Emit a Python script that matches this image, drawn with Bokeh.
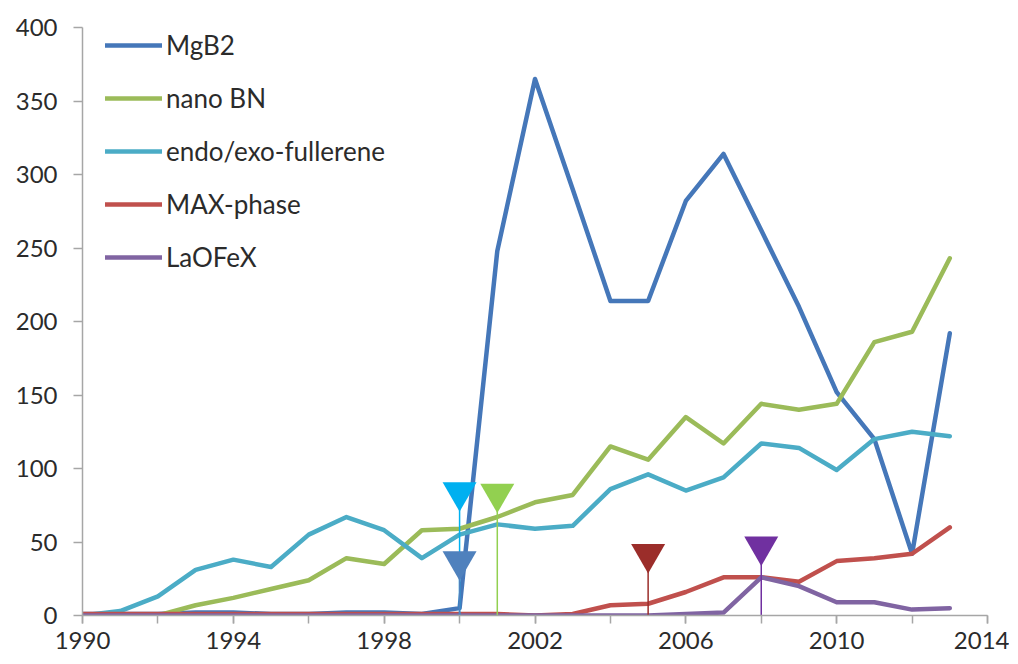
from bokeh.plotting import figure
from bokeh.models import Range1d, FixedTicker, Legend, LegendItem
from bokeh.embed import file_html
from bokeh.resources import INLINE

years = list(range(1990, 2014))
mgb2 = [1, 1, 1, 2, 2, 1, 1, 2, 2, 1, 5, 248, 365, 290, 214, 214, 282, 314, 262, 210, 152, 120, 42, 192]
nano_bn = [0, 0, 0, 7, 12, 18, 24, 39, 35, 58, 59, 67, 77, 82, 115, 106, 135, 117, 144, 140, 144, 186, 193, 243]
fullerene = [0, 3, 13, 31, 38, 33, 55, 67, 58, 39, 55, 62, 59, 61, 86, 96, 85, 94, 117, 114, 99, 120, 125, 122]
max_phase = [1, 1, 1, 1, 1, 1, 1, 1, 1, 1, 1, 1, 0, 1, 7, 8, 16, 26, 26, 23, 37, 39, 42, 60]
laofex = [0, 0, 0, 0, 0, 0, 0, 0, 0, 0, 0, 0, 0, 0, 0, 0, 1, 2, 26, 20, 9, 9, 4, 5]

series_names = ["MgB2", "nano BN", "endo/exo-fullerene", "MAX-phase", "LaOFeX"]
series_values = [mgb2, nano_bn, fullerene, max_phase, laofex]
series_colors = ["#4577B9", "#9BBB59", "#4BACC6", "#C0504D", "#8064A2"]

marker_years = [2000, 2000, 2001, 2005, 2008]
marker_values = [84, 37, 83, 42, 47]
marker_colors = ["#00B0F0", "#4F81BD", "#92D050", "#9B2D2A", "#7030A0"]

x_ticks = [1990, 1994, 1998, 2002, 2006, 2010, 2014]
x_minor = list(range(1990, 2015, 2))
y_ticks = [0, 50, 100, 150, 200, 250, 300, 350, 400]

FONT = "Lato"
TXT = "#2b2b2b"
AX = "#A6A6A6"

p = figure(output_backend="svg", toolbar_location=None,
           frame_width=905, frame_height=588,
           x_range=Range1d(1990, 2014), y_range=Range1d(0, 400))
p.min_border_left = 82
p.min_border_top = 27
p.min_border_right = 22
p.min_border_bottom = 46
p.outline_line_color = None
p.background_fill_color = "white"
p.border_fill_color = "white"
p.xgrid.visible = False
p.ygrid.visible = False

renderers = []
for name, vals, col in zip(series_names, series_values, series_colors):
    r = p.line(years, vals, line_color=col, line_width=4.5, line_join="round", line_cap="round")
    renderers.append((name, r))

for x, y, c in zip(marker_years, marker_values, marker_colors):
    p.segment(x0=[x], y0=[0], x1=[x], y1=[y], line_color=c, line_width=1.5)
for x, y, c in zip(marker_years, marker_values, marker_colors):
    p.scatter([x], [y], marker="inverted_triangle", size=34, fill_color=c, line_color=c, line_width=0)

p.xaxis.ticker = FixedTicker(ticks=x_ticks, minor_ticks=x_minor)
p.yaxis.ticker = FixedTicker(ticks=y_ticks)
for ax in (p.xaxis, p.yaxis):
    ax.axis_line_color = AX
    ax.axis_line_width = 1.5
    ax.major_tick_line_color = AX
    ax.major_tick_line_width = 1.5
    ax.minor_tick_line_color = AX
    ax.minor_tick_line_width = 1.5
    ax.major_tick_in = 0
    ax.minor_tick_in = 0
    ax.major_label_text_font = FONT
    ax.major_label_text_font_size = "24px"
    ax.major_label_text_color = TXT
p.xaxis.major_tick_out = 8
p.xaxis.minor_tick_out = 8
p.xaxis.major_label_standoff = 8
p.yaxis.major_tick_out = 9
p.yaxis.minor_tick_out = 0
p.yaxis.major_label_standoff = 16

legend = Legend(items=[LegendItem(label=n, renderers=[r]) for n, r in renderers],
                location=(23, 342), orientation="vertical",
                glyph_width=57, glyph_height=30, label_height=30,
                spacing=21, padding=0, margin=0, label_standoff=4,
                label_text_font=FONT, label_text_font_size="26px",
                label_text_color=TXT,
                background_fill_alpha=0, border_line_color=None)
p.add_layout(legend, "center")

open("out.html", "w").write(file_html(p, INLINE))
